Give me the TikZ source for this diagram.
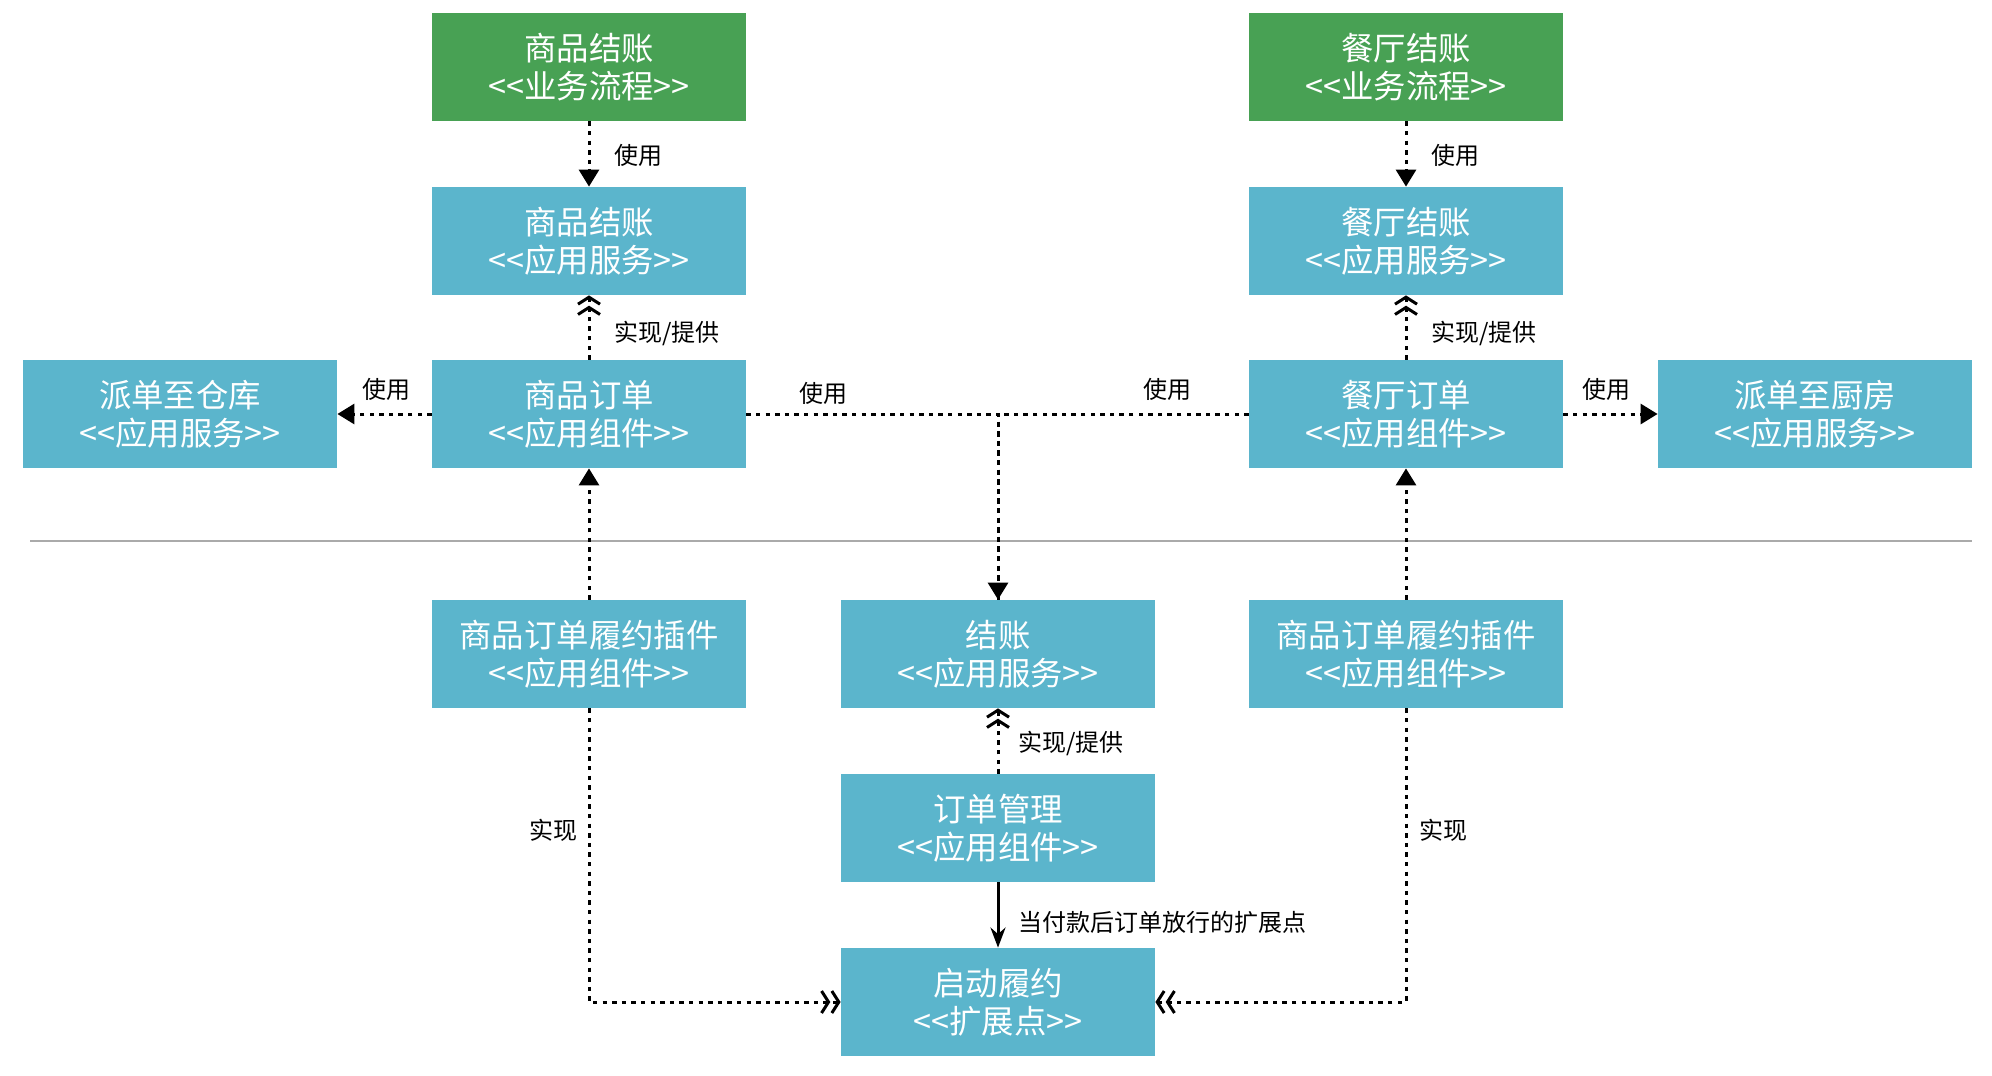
\documentclass[tikz,border=0pt]{standalone}
\usepackage{fontspec}
\setmainfont[Ligatures=TeXOff]{Noto Sans CJK SC}
\usetikzlibrary{arrows.meta}
\definecolor{procgreen}{RGB}{72,161,84}
\definecolor{boxblue}{RGB}{91,181,204}
\definecolor{sepgray}{RGB}{170,170,170}
\tikzset{
  box/.style = {align=center, inner sep=0pt, minimum width=157pt, minimum height=54pt, text=white, font=\fontsize{16.2}{19}\selectfont},
  box_g/.style = {box, fill=procgreen},
  box_b/.style = {box, fill=boxblue},
  lbl/.style = {font=\fontsize{12}{14}\selectfont, inner sep=0pt},
  dots/.style = {dash pattern=on 2.2pt off 2.6pt, line width=1.5pt},
  dep/.style = {dots, -{Triangle[length=8.5pt,width=10pt]}},
  rea/.style = {dots, -{Straight Barb[length=3.5pt,width=11pt]Straight Barb[length=3.5pt,width=11pt]}},
  ext/.style = {line width=1.5pt, -{Stealth[length=10pt,width=7.5pt]}}
}
\begin{document}
\begin{tikzpicture}[x=0.5pt,y=-0.5pt]
	\useasboundingbox (0,0) rectangle (1992,1076);
	\node [box_g] (goods_proc) at (589,67)  {商品结账\\<<业务流程>>};
	\node [box_g] (rest_proc)  at (1406,67) {餐厅结账\\<<业务流程>>};
	\node [box_b] (goods_svc)  at (589,241)  {商品结账\\<<应用服务>>};
	\node [box_b] (rest_svc)   at (1406,241) {餐厅结账\\<<应用服务>>};
	\node [box_b] (to_store)   at (180,414)  {派单至仓库\\<<应用服务>>};
	\node [box_b] (goods_ord)  at (589,414)  {商品订单\\<<应用组件>>};
	\node [box_b] (rest_ord)   at (1406,414) {餐厅订单\\<<应用组件>>};
	\node [box_b] (to_kitchen) at (1815,414) {派单至厨房\\<<应用服务>>};
	\node [box_b] (goods_plug) at (589,654)  {商品订单履约插件\\<<应用组件>>};
	\node [box_b] (checkout)   at (998,654)  {结账\\<<应用服务>>};
	\node [box_b] (rest_plug)  at (1406,654) {商品订单履约插件\\<<应用组件>>};
	\node [box_b] (ord_mgr)    at (998,828)  {订单管理\\<<应用组件>>};
	\node [box_b] (fulfil)     at (998,1002) {启动履约\\<<扩展点>>};

	\draw [sepgray, line width=1pt] (30,541) -- (1972,541);

	\draw [dep] (goods_proc) -- (goods_svc);
	\draw [dep] (rest_proc) -- (rest_svc);
	\draw [rea] (goods_ord) -- (goods_svc);
	\draw [rea] (rest_ord) -- (rest_svc);
	\draw [dep] (goods_ord) -- (to_store);
	\draw [dep] (rest_ord) -- (to_kitchen);
	\draw [dep] (goods_ord.east) -| (checkout.north);
	\draw [dots] (rest_ord.west) -| (checkout.north);
	\draw [dep] (goods_plug) -- (goods_ord);
	\draw [dep] (rest_plug) -- (rest_ord);
	\draw [rea] (ord_mgr) -- (checkout);
	\draw [ext] (ord_mgr) -- (fulfil);
	\draw [rea] (goods_plug.south) |- (fulfil.west);
	\draw [rea] (rest_plug.south) |- (fulfil.east);

	\node [lbl, anchor=west] (l_use1) at (614,155) {使用};
	\node [lbl, anchor=west] (l_use2) at (1431,155) {使用};
	\node [lbl, anchor=west] (l_imp1) at (614,333) {实现/提供};
	\node [lbl, anchor=west] (l_imp2) at (1431,333) {实现/提供};
	\node [lbl] (l_use3) at (386,389) {使用};
	\node [lbl] (l_use4) at (823,393) {使用};
	\node [lbl] (l_use5) at (1167,389) {使用};
	\node [lbl] (l_use6) at (1606,389) {使用};
	\node [lbl, anchor=west] (l_imp3) at (1018,743) {实现/提供};
	\node [lbl, anchor=west] (l_ext) at (1018,922) {当付款后订单放行的扩展点};
	\node [lbl] (l_imp4) at (553,830) {实现};
	\node [lbl] (l_imp5) at (1443,830) {实现};
\end{tikzpicture}
\end{document}
